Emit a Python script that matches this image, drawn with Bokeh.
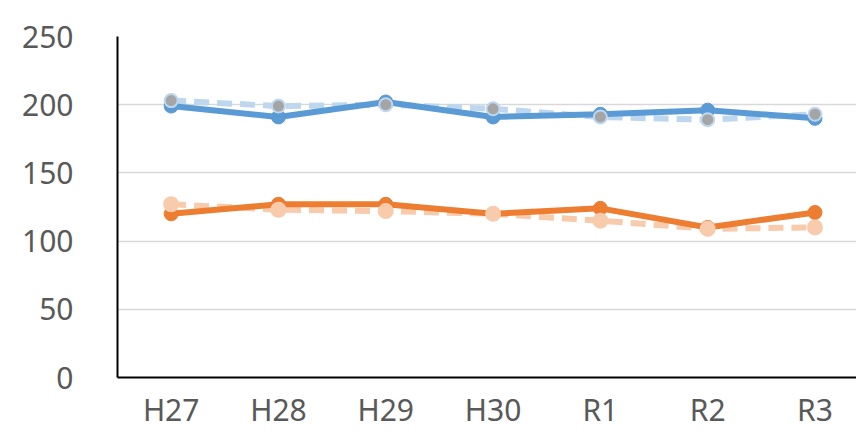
from bokeh.plotting import figure
from bokeh.models import Range1d, FixedTicker
from bokeh.embed import file_html
from bokeh.resources import INLINE

categories = ["H27", "H28", "H29", "H30", "R1", "R2", "R3"]
blue_solid = [199, 191, 202, 191, 193, 196, 190]
blue_dashed = [203, 199, 200, 197, 191, 189, 193]
orange_solid = [120, 127, 127, 120, 124, 110, 121]
orange_dashed = [127, 123, 122, 120, 115, 109, 110]
y_ticks = [0, 50, 100, 150, 200, 250]

xs = list(range(len(categories)))

FONT = "Noto Sans"
LABEL = "#595959"

p = figure(width=856, height=432, output_backend="svg", toolbar_location=None,
           x_range=Range1d(-0.5, 6.387), y_range=Range1d(0, 250),
           min_border_left=117, min_border_right=0, min_border_top=36,
           min_border_bottom=55)
p.outline_line_color = None
p.background_fill_color = "white"
p.border_fill_color = "white"

p.xgrid.visible = False
p.ygrid.grid_line_color = "#D9D9D9"
p.ygrid.grid_line_width = 1.5
p.ygrid.ticker = FixedTicker(ticks=y_ticks)

p.yaxis.ticker = FixedTicker(ticks=y_ticks)
p.xaxis.ticker = FixedTicker(ticks=xs)
p.xaxis.major_label_overrides = {i: c for i, c in enumerate(categories)}

for ax in (p.xaxis, p.yaxis):
    ax.axis_line_color = "black"
    ax.axis_line_width = 2
    ax.major_tick_line_color = None
    ax.minor_tick_line_color = None
    ax.major_tick_out = 0
    ax.major_tick_in = 0
    ax.major_label_text_font = FONT
    ax.major_label_text_font_size = "30px"
    ax.major_label_text_color = LABEL
p.yaxis.major_label_standoff = 44
p.xaxis.major_label_standoff = 11

# dashed series first (behind) then solid
p.line(xs, orange_dashed, line_color="#F8CBAD", line_width=6, line_dash="15 8")
p.line(xs, blue_dashed, line_color="#BDD7EE", line_width=6, line_dash="15 8")
p.line(xs, orange_solid, line_color="#ED7D31", line_width=6)
p.line(xs, blue_solid, line_color="#5B9BD5", line_width=6)
p.scatter(xs, orange_solid, size=14, fill_color="#ED7D31", line_color="#ED7D31")
p.scatter(xs, blue_solid, size=14, fill_color="#5B9BD5", line_color="#5B9BD5")
p.scatter(xs, orange_dashed, size=14, fill_color="#F8CBAD", line_color="#F8CBAD", line_width=2)
p.scatter(xs, blue_dashed, size=13, fill_color="#A5A5A5", line_color="#BDD7EE", line_width=2)

open("out.html", "w").write(file_html(p, INLINE))
